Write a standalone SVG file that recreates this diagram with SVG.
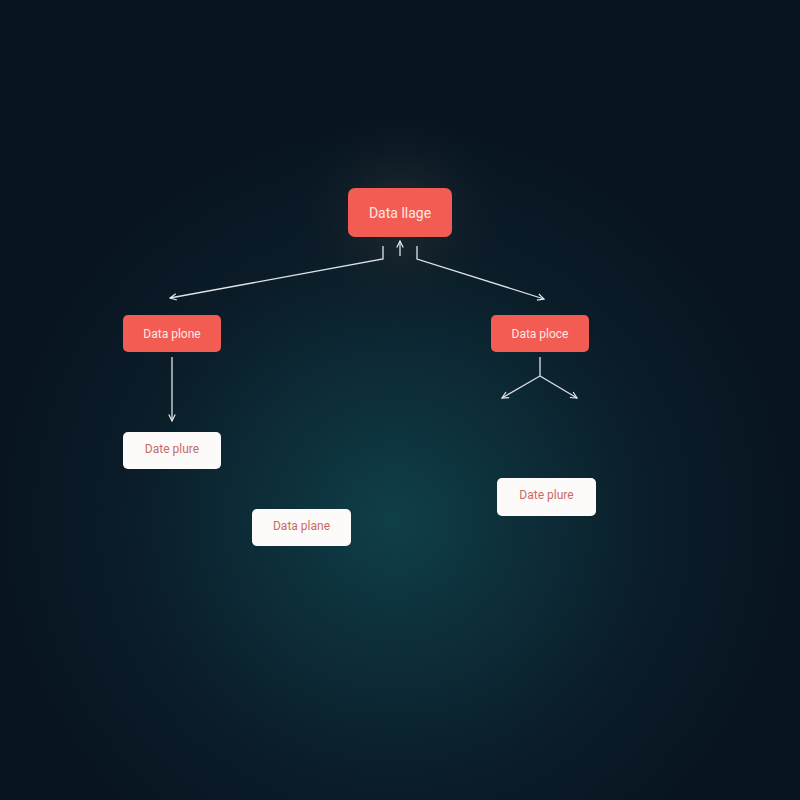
<svg xmlns="http://www.w3.org/2000/svg" width="800" height="800" viewBox="0 0 800 800">
<defs>
<radialGradient id="bg" cx="395" cy="520" r="400" gradientUnits="userSpaceOnUse">
<stop offset="0" stop-color="#0f3f48"/>
<stop offset="0.3" stop-color="#0d2f3a"/>
<stop offset="0.7" stop-color="#0a1b27"/>
<stop offset="1" stop-color="#081521"/>
</radialGradient>
<radialGradient id="glow" cx="400" cy="215" r="110" gradientUnits="userSpaceOnUse">
<stop offset="0" stop-color="#3a3a38" stop-opacity="0.55"/>
<stop offset="1" stop-color="#0a1a26" stop-opacity="0"/>
</radialGradient>
<marker id="arr" viewBox="0 0 10 10" refX="9" refY="5" markerWidth="8" markerHeight="8" orient="auto-start-reverse" markerUnits="userSpaceOnUse">
<path d="M1,1 L9,5 L1,9" fill="none" stroke="#e6eaec" stroke-width="1.5"/>
</marker>
<style>
.red rect{fill:#f25c52}
.red text{fill:#ffe8e4}
.white rect{fill:#fdfbfa}
.white text{fill:#c96a62}
text{font-family:"Roboto","Liberation Sans",sans-serif;font-size:12px;text-anchor:middle;dominant-baseline:central}
.big text{font-size:14px}
.conn path{fill:none;stroke:#dfe4e6;stroke-width:1.3}
</style>
</defs>
<rect width="800" height="800" fill="url(#bg)"/>
<circle cx="400" cy="215" r="110" fill="url(#glow)"/>
<g class="conn" id="connectors">
<path d="M400,256 L400,241" marker-end="url(#arr)"/>
<path d="M383,246 L383,259 L170,298" marker-end="url(#arr)"/>
<path d="M417,246 L417,259 L544,299" marker-end="url(#arr)"/>
<path d="M172,357 L172,421" marker-end="url(#arr)"/>
<path d="M540,357 L540,376 L502,398" marker-end="url(#arr)"/>
<path d="M540,376 L577,398" marker-end="url(#arr)"/>
</g>
<g id="node-top" class="red big"><rect x="348" y="188" width="104" height="49" rx="7"/><text x="400" y="213">Data llage</text></g>
<g id="node-left" class="red"><rect x="123" y="315" width="98" height="37" rx="5"/><text x="172" y="333.5">Data plone</text></g>
<g id="node-right" class="red"><rect x="491" y="315" width="98" height="37" rx="5"/><text x="540" y="333.5">Data ploce</text></g>
<g id="node-left-bottom" class="white"><rect x="123" y="432" width="98" height="37" rx="5"/><text x="172" y="449">Date plure</text></g>
<g id="node-center" class="white"><rect x="252" y="509" width="99" height="37" rx="5"/><text x="301.5" y="526">Data plane</text></g>
<g id="node-right-bottom" class="white"><rect x="497" y="478" width="99" height="38" rx="5"/><text x="546.5" y="495">Date plure</text></g>
</svg>
